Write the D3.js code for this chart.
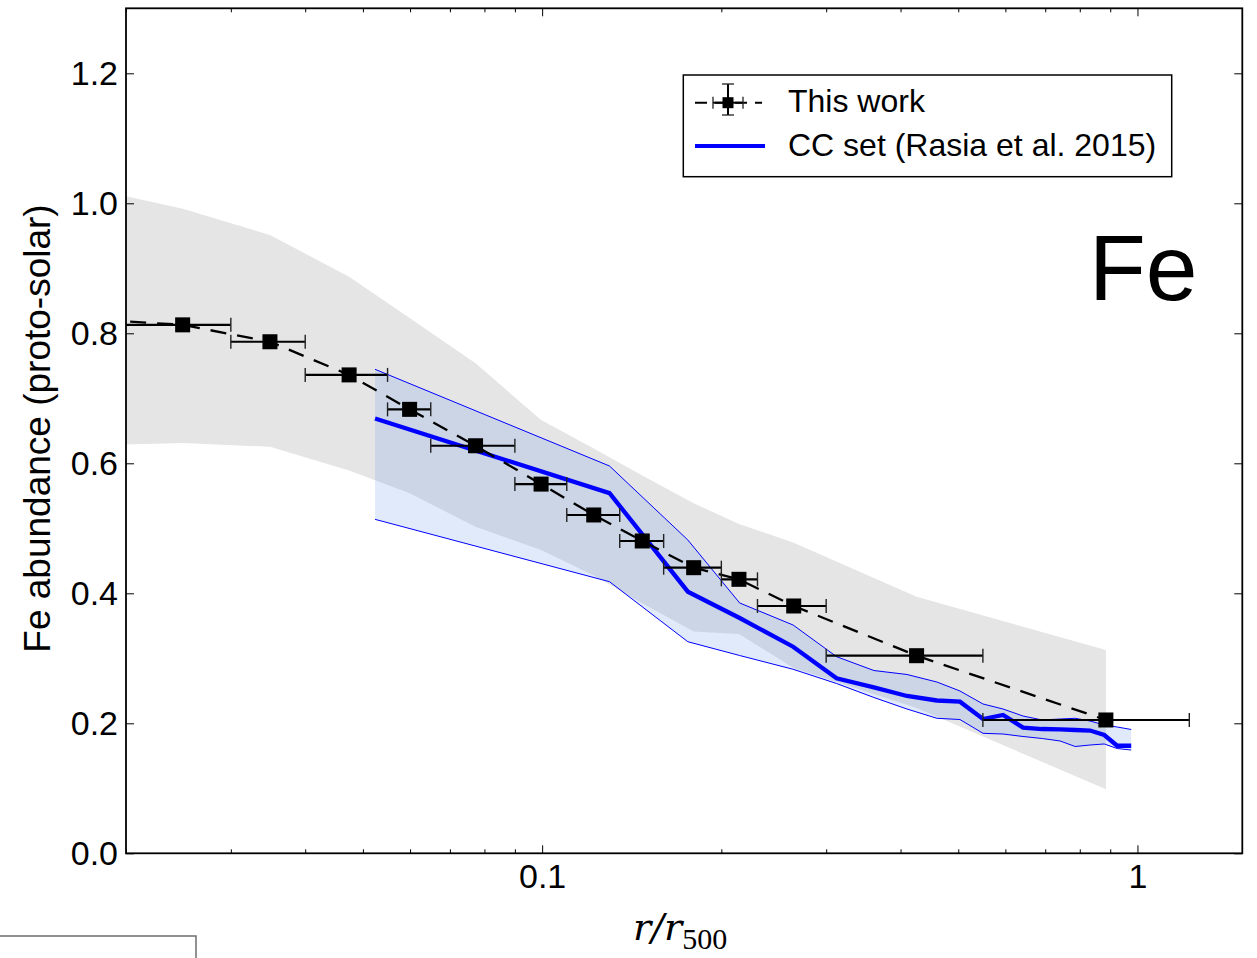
<!DOCTYPE html>
<html><head><meta charset="utf-8">
<script src="https://cdn.jsdelivr.net/npm/d3@7"></script>
<style>body{margin:0;background:#fff} svg{display:block}</style>
</head><body>
<svg id="chart" width="1257" height="958"></svg>
<script>
// ---- "This work" data (r/r500, Fe abundance) ----
const radius  = [0.0165, 0.0249, 0.0349, 0.0474, 0.0599, 0.0773, 0.0996, 0.1221, 0.1473, 0.1797, 0.2141, 0.2646, 0.4256, 0.885];
const feAbund = [0.823, 0.813, 0.787, 0.736, 0.683, 0.627, 0.568, 0.5205, 0.4805, 0.4394, 0.4215, 0.3805, 0.304, 0.2051];
const radLo   = [0.0135, 0.0195, 0.03, 0.04, 0.055, 0.065, 0.09, 0.11, 0.135, 0.16, 0.2, 0.23, 0.3, 0.55];
const radHi   = [0.0195, 0.03, 0.04, 0.055, 0.065, 0.09, 0.11, 0.135, 0.16, 0.2, 0.23, 0.3, 0.55, 1.222];
const feErr   = [0.008, 0.008, 0.008, 0.008, 0.008, 0.008, 0.008, 0.008, 0.008, 0.008, 0.008, 0.008, 0.008, 0.008];
// ---- grey scatter band at the same radii ----
const grayHi = [1.028, 0.9915, 0.9512, 0.8871, 0.8235, 0.7538, 0.6666, 0.6226, 0.5811, 0.5385, 0.5068, 0.4777, 0.3948, 0.3128];
const grayLo = [0.627, 0.6312, 0.6255, 0.5891, 0.5538, 0.5025, 0.4666, 0.4274, 0.3846, 0.3412, 0.3374, 0.2851, 0.2236, 0.0985];
// ---- CC set (Rasia et al. 2015) ----
const modelR    = [0.0524, 0.1298, 0.1757, 0.2147, 0.264, 0.3123, 0.3608, 0.41, 0.4604, 0.5033, 0.5502, 0.5946, 0.6424, 0.6917, 0.7414, 0.7859, 0.8326, 0.8794, 0.9246, 0.9761];
const modelMean = [0.669, 0.554, 0.4025, 0.362, 0.3178, 0.2692, 0.2554, 0.242, 0.2351, 0.2332, 0.2066, 0.2128, 0.1935, 0.1912, 0.1905, 0.1897, 0.1889, 0.182, 0.1655, 0.1655];
const modelHi   = [0.7446, 0.5958, 0.482, 0.3851, 0.3512, 0.3025, 0.2812, 0.2751, 0.2635, 0.2497, 0.2297, 0.222, 0.2112, 0.2051, 0.2066, 0.2077, 0.2035, 0.1974, 0.1943, 0.1905];
const modelLo   = [0.5138, 0.4178, 0.3255, 0.3043, 0.2831, 0.2612, 0.2397, 0.222, 0.2077, 0.2058, 0.1846, 0.1835, 0.1797, 0.1766, 0.1728, 0.1643, 0.1666, 0.1682, 0.1612, 0.1589];
// ---- ticks ----
const xMajor = [0.1, 1];
const xMajorLabels = ["0.1", "1"];
const xMinor = [0.02, 0.03, 0.04, 0.05, 0.06, 0.07, 0.08, 0.09, 0.2, 0.3, 0.4, 0.5, 0.6, 0.7, 0.8, 0.9];
const yMajor = [0, 0.2, 0.4, 0.6, 0.8, 1.0, 1.2];
const yMajorLabels = ["0.0", "0.2", "0.4", "0.6", "0.8", "1.0", "1.2"];
const legendLabels = ["This work", "CC set (Rasia et al. 2015)"];

const svg = d3.select('#chart');
const L = 126, R = 1242.3, T = 8.3, B = 853.3;
const FONT = "'Liberation Sans', Arial, Helvetica, sans-serif";
const x = d3.scaleLog().domain([0.02, 1.5]).range([L, R]);
const y = d3.scaleLinear().domain([0, 1.3]).range([B, T]);

svg.append('rect').attr('width', 1257).attr('height', 958).attr('fill', '#fff');
svg.append('defs').append('clipPath').attr('id', 'clip')
  .append('rect').attr('x', L).attr('y', T).attr('width', R - L).attr('height', B - T);
const plot = svg.append('g').attr('clip-path', 'url(#clip)');

// grey band
const idx = radius.map((d, i) => i);
plot.append('path').datum(idx)
  .attr('d', d3.area().x(i => x(radius[i])).y0(i => y(grayLo[i])).y1(i => y(grayHi[i])))
  .attr('fill', '#e5e5e5');

// model band
const midx = modelR.map((d, i) => i);
plot.append('path').datum(midx)
  .attr('d', d3.area().x(i => x(modelR[i])).y0(i => y(modelLo[i])).y1(i => y(modelHi[i])))
  .attr('fill', 'cornflowerblue').attr('fill-opacity', 0.2);
const mline = arr => d3.line().x(i => x(modelR[i])).y(i => y(arr[i]));
plot.append('path').datum(midx).attr('d', mline(modelHi)).attr('fill', 'none').attr('stroke', '#0000ff').attr('stroke-width', 1);
plot.append('path').datum(midx).attr('d', mline(modelLo)).attr('fill', 'none').attr('stroke', '#0000ff').attr('stroke-width', 1);
plot.append('path').datum(midx).attr('d', mline(modelMean)).attr('fill', 'none').attr('stroke', '#0000ff').attr('stroke-width', 4.3).attr('stroke-linejoin', 'miter');

// This work: dashed line, error bars, markers
plot.append('path').datum(idx)
  .attr('d', d3.line().x(i => x(radius[i])).y(i => y(feAbund[i])))
  .attr('fill', 'none').attr('stroke', '#000').attr('stroke-width', 2.3).attr('stroke-dasharray', '16,11');
const eb = plot.append('g');
idx.forEach(i => {
  const cx = x(radius[i]), cy = y(feAbund[i]);
  const x0 = x(radLo[i]), x1 = x(radHi[i]);
  const y0 = y(feAbund[i] - feErr[i]), y1 = y(feAbund[i] + feErr[i]);
  eb.append('line').attr('x1', x0).attr('x2', x1).attr('y1', cy).attr('y2', cy).attr('stroke', '#000').attr('stroke-width', 2.2);
  eb.append('line').attr('x1', cx).attr('x2', cx).attr('y1', y0).attr('y2', y1).attr('stroke', '#000').attr('stroke-width', 2.2);
  [x0, x1].forEach(xx => eb.append('line').attr('x1', xx).attr('x2', xx).attr('y1', cy - 7).attr('y2', cy + 7).attr('stroke', '#222').attr('stroke-width', 1.4));
  [y0, y1].forEach(yy => eb.append('line').attr('x1', cx - 7).attr('x2', cx + 7).attr('y1', yy).attr('y2', yy).attr('stroke', '#222').attr('stroke-width', 1.4));
});
plot.append('g').selectAll('rect').data(idx).join('rect')
  .attr('x', i => x(radius[i]) - 7.5).attr('y', i => y(feAbund[i]) - 7.5)
  .attr('width', 15).attr('height', 15).attr('fill', '#000');

// axes (inward ticks on all four sides)
function styleAxis(g) {
  g.select('.domain').remove();
  g.selectAll('.tick line').attr('stroke', '#000').attr('stroke-width', 1);
  g.selectAll('text').attr('font-family', FONT).attr('font-size', 34).attr('fill', '#000');
}
svg.append('g').attr('transform', `translate(0,${B})`)
  .call(d3.axisBottom(x).tickValues(xMajor).tickFormat((d, i) => xMajorLabels[i]).tickSize(-8).tickPadding(11)).call(styleAxis);
svg.append('g').attr('transform', `translate(0,${B})`)
  .call(d3.axisBottom(x).tickValues(xMinor).tickFormat('').tickSize(-4)).call(styleAxis);
svg.append('g').attr('transform', `translate(0,${T})`)
  .call(d3.axisTop(x).tickValues(xMajor).tickFormat('').tickSize(-8)).call(styleAxis);
svg.append('g').attr('transform', `translate(0,${T})`)
  .call(d3.axisTop(x).tickValues(xMinor).tickFormat('').tickSize(-4)).call(styleAxis);
svg.append('g').attr('transform', `translate(${L},0)`)
  .call(d3.axisLeft(y).tickValues(yMajor).tickFormat((d, i) => yMajorLabels[i]).tickSize(-8).tickPadding(8)).call(styleAxis);
svg.append('g').attr('transform', `translate(${R},0)`)
  .call(d3.axisRight(y).tickValues(yMajor).tickFormat('').tickSize(-8)).call(styleAxis);

// frame
svg.append('rect').attr('x', L).attr('y', T).attr('width', R - L).attr('height', B - T)
  .attr('fill', 'none').attr('stroke', '#000').attr('stroke-width', 1.8);

// axis labels
svg.append('text').attr('transform', `translate(50,428.5) rotate(-90)`)
  .attr('text-anchor', 'middle').attr('font-family', FONT).attr('font-size', 37).text('Fe abundance (proto-solar)');
const xl = svg.append('text').attr('x', 633).attr('y', 940).attr('font-family', "'DejaVu Serif', serif").attr('fill', '#000');
xl.append('tspan').attr('font-style', 'italic').attr('font-size', 38).text('r/r');
xl.append('tspan').attr('font-family', "'Liberation Serif', 'Times New Roman', serif").attr('font-size', 30).attr('dy', 9).text('500');

// big element label
svg.append('text').attr('x', 1089).attr('y', 300).attr('font-family', FONT).attr('font-size', 93).text('Fe');

// legend
const lg = svg.append('g');
lg.append('rect').attr('x', 683.3).attr('y', 75).attr('width', 488.4).attr('height', 101.7)
  .attr('fill', '#fff').attr('stroke', '#000').attr('stroke-width', 1.5);
const ly1 = 102.7, ly2 = 146, lx = 728;
lg.append('line').attr('x1', 695).attr('x2', 762).attr('y1', ly1).attr('y2', ly1).attr('stroke', '#000').attr('stroke-width', 2).attr('stroke-dasharray', '12,8');
lg.append('line').attr('x1', 713).attr('x2', 743).attr('y1', ly1).attr('y2', ly1).attr('stroke', '#000').attr('stroke-width', 2);
lg.append('line').attr('x1', lx).attr('x2', lx).attr('y1', 84).attr('y2', 115).attr('stroke', '#000').attr('stroke-width', 2);
[713, 743].forEach(xx => lg.append('line').attr('x1', xx).attr('x2', xx).attr('y1', ly1 - 6).attr('y2', ly1 + 6).attr('stroke', '#222').attr('stroke-width', 1.3));
[84, 115].forEach(yy => lg.append('line').attr('x1', lx - 6).attr('x2', lx + 6).attr('y1', yy).attr('y2', yy).attr('stroke', '#222').attr('stroke-width', 1.3));
lg.append('rect').attr('x', lx - 5.5).attr('y', ly1 - 5.5).attr('width', 11).attr('height', 11).attr('fill', '#000');
lg.append('line').attr('x1', 695).attr('x2', 765).attr('y1', ly2).attr('y2', ly2).attr('stroke', '#0000ff').attr('stroke-width', 4);
lg.append('text').attr('x', 788).attr('y', 112).attr('font-family', FONT).attr('font-size', 32).text(legendLabels[0]);
lg.append('text').attr('x', 788).attr('y', 156).attr('font-family', FONT).attr('font-size', 32).text(legendLabels[1]);

// partial frame of a neighbouring panel at lower left
svg.append('path').attr('d', 'M0,936 H196 V960').attr('fill', 'none').attr('stroke', '#6e6e6e').attr('stroke-width', 1.5);
</script>
</body></html>
